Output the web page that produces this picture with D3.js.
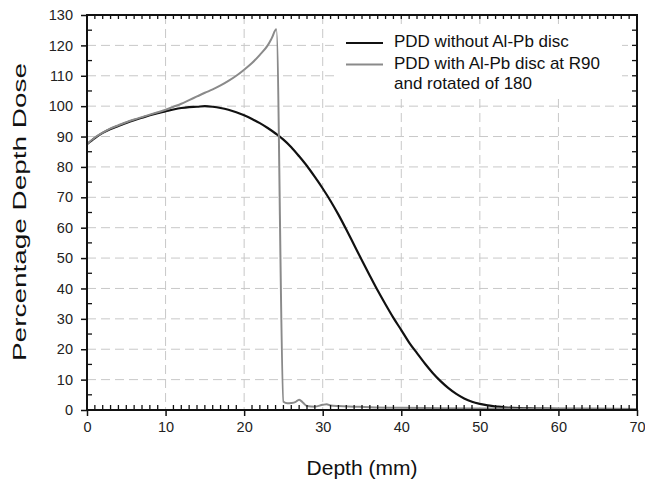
<!DOCTYPE html>
<html>
<head>
<meta charset="utf-8">
<script src="https://cdn.jsdelivr.net/npm/d3@7"></script>
<style>
  body { margin: 0; background: #fff; }
  svg { display: block; font-family: "Liberation Sans", Arial, sans-serif; }
</style>
</head>
<body>
<svg id="chart" width="645" height="483"></svg>
<script>
// PDD without Al-Pb disc
const depthOpen = [0, 1, 2, 3, 4, 5, 6, 7, 8, 9, 10, 11, 12, 13, 14, 15, 16, 17, 18, 19, 20,
  21, 22, 23, 24, 25, 26, 27, 28, 29, 30, 31, 32, 33, 34, 35, 36, 37, 38, 39, 40,
  41, 42, 43, 44, 45, 46, 47, 48, 49, 50, 51, 52, 53, 55, 57, 60, 65, 70];
const doseOpen = [87.5, 89.5, 91.2, 92.5, 93.5, 94.5, 95.4, 96.2, 97, 97.7, 98.3, 98.9, 99.4, 99.7, 99.8, 100, 99.8, 99.4, 98.8, 98, 97,
  95.8, 94.4, 92.8, 91, 89, 86.5, 83.5, 80.3, 76.7, 72.9, 68.8, 64.3, 59.4, 54.3, 49.2, 44.2, 39.3, 34.7, 30.3, 26.3,
  22.2, 18.7, 15.3, 12.2, 9.5, 7.2, 5.3, 3.8, 2.7, 2.0, 1.5, 1.2, 0.9, 0.6, 0.5, 0.4, 0.35, 0.3];

// PDD with Al-Pb disc at R90 and rotated of 180
const depthDisc = [0, 1, 2, 3, 4, 5, 6, 7, 8, 9, 10, 11, 12, 13, 14, 15, 16, 17, 18, 19, 20,
  21, 22, 23, 23.5, 24.1, 25, 25.5, 26, 26.5, 27, 27.5, 28, 29, 30, 30.5, 31, 32, 34, 36, 40, 45, 50, 60, 70];
const doseDisc = [87.5, 89.7, 91.3, 92.7, 93.7, 94.7, 95.6, 96.4, 97.2, 98, 98.8, 99.8, 100.8, 102, 103.2, 104.4, 105.5, 106.8, 108.3, 110, 112,
  114.2, 116.9, 120, 122.3, 125.3, 2.7, 2.2, 2.3, 2.6, 3.4, 2.4, 1.3, 1.1, 1.7, 1.9, 1.5, 1.3, 1.1, 0.9, 0.7, 0.6, 0.5, 0.4, 0.3];

const xTicks = [0, 10, 20, 30, 40, 50, 60, 70];
const yTicks = [0, 10, 20, 30, 40, 50, 60, 70, 80, 90, 100, 110, 120, 130];

const series = [
  { label: ["PDD without Al-Pb disc"], depth: depthOpen, dose: doseOpen, color: "#111", width: 2.2 },
  { label: ["PDD with Al-Pb disc at R90", "and rotated of 180"], depth: depthDisc, dose: doseDisc, color: "#8a8a8a", width: 2 }
];

render();

function render() {
  const svg = d3.select("svg#chart");
  const left = 87, right = 637, top = 15, bottom = 410;

  const x = d3.scaleLinear().domain([0, 70]).range([left, right]);
  const y = d3.scaleLinear().domain([0, 130]).range([bottom, top]);

  // grid
  const grid = svg.append("g")
    .attr("stroke", "#c8c8c8")
    .attr("stroke-width", 1)
    .attr("stroke-dasharray", "9,5");
  grid.selectAll("line.h")
    .data(yTicks.filter(d => d > 0 && d < 130))
    .join("line")
    .attr("class", "h")
    .attr("x1", left).attr("x2", right)
    .attr("y1", d => y(d)).attr("y2", d => y(d));
  grid.selectAll("line.v")
    .data(xTicks.filter(d => d > 0 && d < 70))
    .join("line")
    .attr("class", "v")
    .attr("y1", top).attr("y2", bottom)
    .attr("x1", d => x(d)).attr("x2", d => x(d));

  // legend background hides the grid behind it
  svg.append("rect")
    .attr("x", 337).attr("y", 28)
    .attr("width", 285).attr("height", 68)
    .attr("fill", "#fff");

  // curves
  const line = d3.line()
    .curve(d3.curveMonotoneX)
    .x(d => x(d[0]))
    .y(d => y(d[1]));

  svg.append("g")
    .selectAll("path")
    .data(series)
    .join("path")
    .attr("fill", "none")
    .attr("stroke", d => d.color)
    .attr("stroke-width", d => d.width)
    .attr("stroke-linejoin", "round")
    .attr("d", d => line(d3.zip(d.depth, d.dose)));

  // axes
  const axisColor = "#111";
  const xMinor = d3.range(1, 70).filter(d => d % 10 !== 0);
  const yMinor = d3.range(5, 130, 10);

  svg.append("g")
    .attr("transform", `translate(0,${bottom})`)
    .call(d3.axisBottom(x).tickValues(xTicks).tickSize(6).tickPadding(6).tickFormat(d3.format("d")))
    .call(g => g.select(".domain").remove())
    .call(g => g.selectAll("line").attr("stroke", axisColor).attr("stroke-width", 1.5))
    .call(g => g.selectAll("text").attr("fill", "#222").attr("font-size", 14.5).attr("font-family", "Liberation Sans, Arial, sans-serif"));

  svg.append("g")
    .attr("transform", `translate(${left},0)`)
    .call(d3.axisLeft(y).tickValues(yTicks).tickSize(6).tickPadding(8).tickFormat(d3.format("d")))
    .call(g => g.select(".domain").remove())
    .call(g => g.selectAll("line").attr("stroke", axisColor).attr("stroke-width", 1.5))
    .call(g => g.selectAll("text").attr("fill", "#222").attr("font-size", 14.5).attr("font-family", "Liberation Sans, Arial, sans-serif"));

  // minor ticks pointing inside
  const minor = svg.append("g")
    .attr("stroke", axisColor)
    .attr("stroke-width", 1.3);
  minor.selectAll("line.b")
    .data(xMinor)
    .join("line")
    .attr("class", "b")
    .attr("x1", d => x(d)).attr("x2", d => x(d))
    .attr("y1", bottom).attr("y2", bottom - 5);
  minor.selectAll("line.t")
    .data(xMinor.concat([10, 20, 30, 40, 50, 60]))
    .join("line")
    .attr("class", "t")
    .attr("x1", d => x(d)).attr("x2", d => x(d))
    .attr("y1", top).attr("y2", top + 4);
  minor.selectAll("line.l")
    .data(yMinor)
    .join("line")
    .attr("class", "l")
    .attr("x1", left).attr("x2", left + 5)
    .attr("y1", d => y(d)).attr("y2", d => y(d));
  minor.selectAll("line.r")
    .data(d3.range(5, 130, 5))
    .join("line")
    .attr("class", "r")
    .attr("x1", right).attr("x2", right - 5)
    .attr("y1", d => y(d)).attr("y2", d => y(d));

  // frame
  svg.append("path")
    .attr("fill", "none")
    .attr("stroke", axisColor)
    .attr("stroke-width", 2)
    .attr("d", `M${left},${top}H${right}V${bottom}H${left}Z`);

  // axis titles
  svg.append("text")
    .attr("x", x(35)).attr("y", 475)
    .attr("text-anchor", "middle")
    .attr("font-size", 21)
    .attr("fill", "#111")
    .text("Depth (mm)");

  svg.append("text")
    .attr("transform", "translate(26,212) rotate(-90)")
    .attr("text-anchor", "middle")
    .attr("font-size", 18)
    .attr("fill", "#111")
    .attr("textLength", 298)
    .attr("lengthAdjust", "spacingAndGlyphs")
    .text("Percentage Depth Dose");

  // legend
  const legendRows = [47, 68.5];
  const legend = svg.append("g")
    .selectAll("g")
    .data(series)
    .join("g")
    .attr("transform", (d, i) => `translate(0,${legendRows[i]})`);
  legend.append("line")
    .attr("x1", 346).attr("x2", 383)
    .attr("y1", -4).attr("y2", -4)
    .attr("stroke", d => d.color)
    .attr("stroke-width", d => d.width);
  legend.append("text")
    .attr("x", 394)
    .attr("font-size", 17)
    .attr("fill", "#111")
    .selectAll("tspan")
    .data(d => d.label)
    .join("tspan")
    .attr("x", 394)
    .attr("dy", (d, i) => i === 0 ? 0 : 20.5)
    .text(d => d);
}
</script>
</body>
</html>
